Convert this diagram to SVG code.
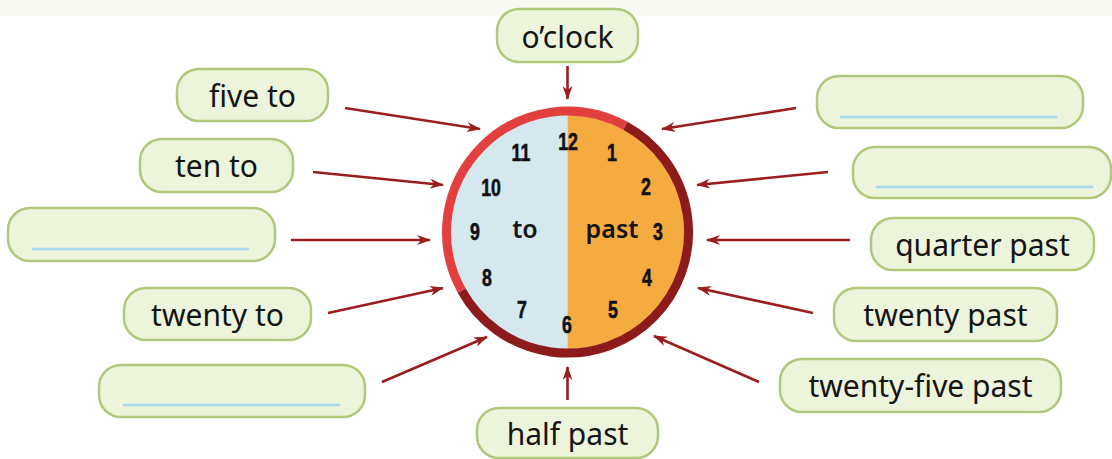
<svg xmlns="http://www.w3.org/2000/svg" width="1112" height="459" viewBox="0 0 1112 459">
<style>
.box{fill:#edf4dc;stroke:#afc879;stroke-width:2.5}
.lbl{font-family:"Noto Sans","Open Sans",sans-serif;font-size:30px;fill:#151515;text-anchor:middle}
.blank{stroke:#a9d8ef;stroke-width:2.5}
.arr{stroke:#9a1e1e;stroke-width:2.6;fill:none;marker-end:url(#ah)}
.num{font-family:"Liberation Sans",Arial,sans-serif;font-weight:bold;font-size:24px;fill:#111;stroke:#111;stroke-width:0.6;text-anchor:middle}
.word{font-family:"Noto Sans","Open Sans",sans-serif;font-weight:600;font-size:25px;fill:#151515;text-anchor:middle}
</style>
<defs>
<marker id="ah" viewBox="0 0 14 10" refX="13" refY="5" markerWidth="14" markerHeight="10" markerUnits="userSpaceOnUse" orient="auto">
<path d="M0,0 L14,5 L0,10 L4,5 Z" fill="#9a1e1e"/>
</marker>
</defs>
<rect x="0" y="0" width="1112" height="459" fill="#ffffff"/>
<rect x="0" y="0" width="1112" height="16" fill="#f8f9f1"/>

<g id="clock">
<path d="M567.5,115 A117,117 0 0 0 567.5,349 Z" fill="#d5e8ee"/>
<path d="M567.5,115 A117,117 0 0 1 567.5,349 Z" fill="#f6ab41"/>
<path d="M461.7,290.7 A121,121 0 0 1 625.4,125.8" stroke="#e2403f" stroke-width="9" fill="none"/>
<path d="M625.4,125.8 A121,121 0 1 1 461.7,290.7" stroke="#8e1b1b" stroke-width="9" fill="none"/>
<g transform="translate(568,150) scale(0.74,1)"><text class="num">12</text></g>
<g transform="translate(612,161) scale(0.74,1)"><text class="num">1</text></g>
<g transform="translate(646,195) scale(0.74,1)"><text class="num">2</text></g>
<g transform="translate(658,240) scale(0.74,1)"><text class="num">3</text></g>
<g transform="translate(647,286) scale(0.74,1)"><text class="num">4</text></g>
<g transform="translate(613,318) scale(0.74,1)"><text class="num">5</text></g>
<g transform="translate(567,333) scale(0.74,1)"><text class="num">6</text></g>
<g transform="translate(522,318) scale(0.74,1)"><text class="num">7</text></g>
<g transform="translate(487,286) scale(0.74,1)"><text class="num">8</text></g>
<g transform="translate(475,240) scale(0.74,1)"><text class="num">9</text></g>
<g transform="translate(491,196) scale(0.74,1)"><text class="num">10</text></g>
<g transform="translate(521,161) scale(0.74,1)"><text class="num">11</text></g>
<text class="word" x="525" y="238">to</text>
<text class="word" x="612" y="238">past</text>
</g>

<g id="connectors">
<line class="arr" x1="567.5" y1="66" x2="567.5" y2="99"/>
<line class="arr" x1="345" y1="108" x2="480" y2="129"/>
<line class="arr" x1="313" y1="172" x2="443" y2="185"/>
<line class="arr" x1="291" y1="240" x2="430" y2="240"/>
<line class="arr" x1="328" y1="313" x2="443" y2="288"/>
<line class="arr" x1="382" y1="382" x2="487" y2="337"/>
<line class="arr" x1="567.5" y1="400" x2="567.5" y2="367"/>
<line class="arr" x1="759" y1="382" x2="654" y2="336"/>
<line class="arr" x1="813" y1="313" x2="698" y2="288"/>
<line class="arr" x1="850" y1="240" x2="707" y2="240"/>
<line class="arr" x1="828" y1="172" x2="697" y2="185"/>
<line class="arr" x1="796" y1="108" x2="662" y2="129"/>
</g>

<g id="oclock"><rect class="box" x="497" y="9" width="141" height="53" rx="22"/><text class="lbl" x="567.5" y="48">o’clock</text></g>
<g id="five-to"><rect class="box" x="177" y="69" width="151" height="52" rx="22"/><text class="lbl" x="252.5" y="107">five to</text></g>
<g id="ten-to"><rect class="box" x="140" y="139" width="153" height="53" rx="22"/><text class="lbl" x="216.5" y="177">ten to</text></g>
<g id="blank-left-1"><rect class="box" x="8" y="208" width="267" height="53" rx="22"/><line class="blank" x1="32" y1="249" x2="249" y2="249"/></g>
<g id="twenty-to"><rect class="box" x="124" y="288" width="187" height="52" rx="22"/><text class="lbl" x="217.5" y="326">twenty to</text></g>
<g id="blank-left-2"><rect class="box" x="99" y="365" width="266" height="52" rx="22"/><line class="blank" x1="123" y1="405" x2="340" y2="405"/></g>
<g id="half-past"><rect class="box" x="477" y="408" width="181" height="50" rx="22"/><text class="lbl" x="567.5" y="445">half past</text></g>
<g id="blank-right-1"><rect class="box" x="817" y="76" width="266" height="52" rx="22"/><line class="blank" x1="840" y1="117" x2="1057" y2="117"/></g>
<g id="blank-right-2"><rect class="box" x="853" y="147" width="258" height="51" rx="22"/><line class="blank" x1="876" y1="187" x2="1093" y2="187"/></g>
<g id="quarter-past"><rect class="box" x="871" y="218" width="223" height="52" rx="22"/><text class="lbl" x="982.5" y="256">quarter past</text></g>
<g id="twenty-past"><rect class="box" x="834" y="288" width="223" height="53" rx="22"/><text class="lbl" x="945.5" y="326">twenty past</text></g>
<g id="twenty-five-past"><rect class="box" x="780" y="359" width="281" height="53" rx="22"/><text class="lbl" x="920.5" y="397">twenty-five past</text></g>
</svg>
